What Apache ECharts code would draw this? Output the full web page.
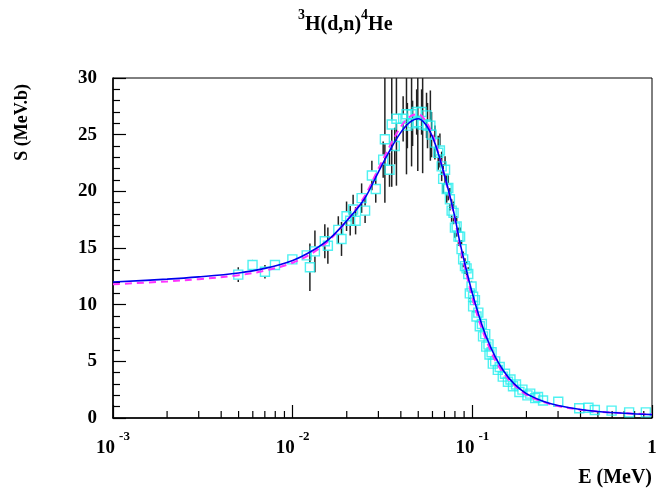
<!DOCTYPE html>
<html>
<head>
<meta charset="utf-8">
<script src="https://cdn.jsdelivr.net/npm/echarts@6/dist/echarts.min.js"></script>
<style>
html,body{margin:0;padding:0;background:#fff;}
#chart{width:670px;height:491px;}
</style>
</head>
<body>
<div id="chart"></div>
<script>
// ---- data ----
const pointE = [0.00498,0.00598,0.00701,0.00797,0.00996,0.01197,0.01247,0.0133,0.0151,0.0157,0.01795,0.0187,0.01995,0.0209,0.0217,0.0224,0.0242,0.0253,0.0276,0.029,0.0319,0.0326,0.0346,0.0356,0.037,0.0378,0.0412,0.0430,0.0435,0.0459,0.0465,0.049,0.0497,0.0522,0.0529,0.0556,0.0563,0.0584,0.0593,0.0619,0.0646,0.066,0.0675,0.0688,0.0705,0.072,0.0735,0.0750,0.0767,0.0786,0.080,0.0818,0.0837,0.0855,0.0871,0.0889,0.091,0.0929,0.0949,0.0968,0.099,0.101,0.101,0.1034,0.1055,0.108,0.110,0.113,0.1147,0.118,0.1195,0.123,0.1246,0.128,0.130,0.134,0.1386,0.142,0.1477,0.152,0.1578,0.163,0.1684,0.175,0.1828,0.19,0.2026,0.21,0.2239,0.232,0.2475,0.3007,0.3934,0.4428,0.4807,0.5957,0.746,0.924];
const pointS = [12.65,13.5,12.9,13.5,14.0,14.35,13.3,14.7,15.6,15.2,16.6,15.8,17.8,17.4,18.4,17.4,19.4,18.3,21.4,20.2,22.8,24.6,21.9,25.9,24.0,26.4,26.4,26.8,25.8,26.8,26.0,27.0,26.1,27.0,25.9,26.7,25.8,25.8,25.0,24.3,23.4,23.6,22.2,21.1,21.9,20.2,20.3,19.3,18.3,18.1,16.8,16.9,16.0,16.0,14.9,14.0,13.4,13.2,12.7,11.0,11.6,10.7,9.85,10.4,8.96,9.3,8.1,8.3,7.2,7.4,6.3,6.5,5.6,5.8,4.8,5.0,4.25,4.5,3.65,3.9,3.2,3.4,2.8,2.95,2.3,2.5,2.0,2.15,1.75,1.85,1.55,1.44,0.86,0.91,0.71,0.65,0.5,0.5];
const pointErr = [0.65,0.45,0.6,0.3,0.25,0.3,2.1,1.85,1.5,1.6,1.2,1.5,1.3,1.3,1.3,1.2,1.3,1.1,1.3,1.2,1.6,5.6,1.5,5.5,1.6,5.9,2.0,5.3,2.0,4.6,2.0,2.0,4.3,2.0,4.3,2.0,2.0,3.1,2.0,1.5,1.5,1.5,1.3,1.3,1.2,1.2,1.1,1.0,1.0,1.0,0.9,0.9,0.8,0.8,0.8,0.7,0.7,0.6,0.6,0.5,0.5,0.5,0.5,0.4,0.4,0.4,0.4,0.3,0.3,0.3,0.3,0.3,0.3,0.2,0.2,0.2,0.2,0.2,0.2,0.2,0.15,0.15,0.15,0.15,0.1,0.1,0.1,0.1,0.1,0.1,0.1,0.1,0.08,0.08,0.08,0.06,0.06,0.06];

const curveE = [0.001,0.002,0.003,0.005,0.007,0.01,0.013,0.016,0.02,0.025,0.03,0.035,0.04,0.045,0.05,0.055,0.06,0.065,0.07,0.075,0.08,0.085,0.09,0.1,0.11,0.12,0.135,0.15,0.17,0.2,0.25,0.3,0.4,0.5,0.7,1.0];
const curveBlue = [12.0,12.25,12.45,12.8,13.2,13.9,14.8,15.8,17.4,19.3,21.7,23.7,25.2,26.1,26.4,25.9,24.8,23.2,21.4,19.6,17.7,15.6,13.9,11.0,8.8,7.1,5.3,4.1,3.05,2.15,1.45,1.1,0.75,0.58,0.42,0.3];
const curveMagenta = [11.8,12.05,12.25,12.6,13.0,13.7,14.6,15.7,17.4,19.5,22.0,24.1,25.7,26.6,26.8,26.2,25.0,23.3,21.4,19.5,17.5,15.4,13.6,10.6,8.4,6.8,5.0,3.9,2.95,2.05,1.4,1.05,0.72,0.56,0.42,0.32];

const xTickLabels = {0.001:'-3', 0.01:'-2', 0.1:'-1'};
const yMin = 0, yMax = 30, yInterval = 5;

const FONT = 'Liberation Serif';
const minorXTicks = [];
[0.001,0.01,0.1].forEach(d => { for (let k = 2; k <= 9; k++) minorXTicks.push(+(d*k).toPrecision(3)); });

const chart = echarts.init(document.getElementById('chart'), null, {renderer:'canvas'});

const option = {
  animation: false,
  backgroundColor: '#fff',
  title: {
    text: '{s|3}{m|H(d,n)}{s|4}{m|He}',
    left: 293,
    top: 3,
    textStyle: {
      rich: {
        m: {fontFamily: FONT, fontWeight: 'bold', fontSize: 20, lineHeight: 27, verticalAlign: 'bottom', color: '#000'},
        s: {fontFamily: FONT, fontWeight: 'bold', fontSize: 14, lineHeight: 15, verticalAlign: 'top', color: '#000'}
      }
    }
  },
  grid: {left: 113, right: 18, top: 78, bottom: 73, show: true, borderColor: '#000', borderWidth: 1},
  xAxis: {
    type: 'log', min: 0.001, max: 1, logBase: 10,
    axisLine: {show: true, lineStyle: {color: '#000', width: 1.5}},
    axisTick: {show: true, inside: true, length: 13, lineStyle: {color: '#000', width: 1.2}},
    minorTick: {show: false},
    splitLine: {show: false},
    axisLabel: {
      margin: 12,
      formatter: function (v) {
        const key = +(+v).toPrecision(3);
        if (xTickLabels[key] !== undefined) return '{b|10}{s|' + xTickLabels[key] + '}';
        return '{b|1}';
      },
      rich: {
        b: {fontFamily: FONT, fontWeight: 'bold', fontSize: 19, lineHeight: 28, verticalAlign: 'bottom', color: '#000'},
        s: {fontFamily: FONT, fontWeight: 'bold', fontSize: 13, lineHeight: 16, verticalAlign: 'top', padding: [0, 0, 0, 4], color: '#000'}
      }
    }
  },
  yAxis: {
    type: 'value', min: yMin, max: yMax, interval: yInterval,
    axisLine: {show: true, lineStyle: {color: '#000', width: 1.5}},
    axisTick: {show: true, inside: true, length: 13, lineStyle: {color: '#000', width: 1.2}},
    minorTick: {show: true, splitNumber: 5, length: 7, lineStyle: {color: '#000', width: 1.2}},
    splitLine: {show: false},
    axisLabel: {margin: 16, fontFamily: FONT, fontWeight: 'bold', fontSize: 19, color: '#000'}
  },
  graphic: [
    {type: 'text', left: 13, top: 84, rotation: Math.PI/2, style: {text: 'S (MeV.b)', fontFamily: FONT, fontWeight: 'bold', fontSize: 18, fill: '#000'}},
    {type: 'text', right: 18, top: 468, style: {text: 'E (MeV)', fontFamily: FONT, fontWeight: 'bold', fontSize: 20, fill: '#000'}}
  ],
  series: [
    {
      type: 'custom', name: 'minorX', silent: true, clip: false, z: 1,
      data: minorXTicks.map(v => [v, yMin]),
      renderItem: function (params, api) {
        const p = api.coord([api.value(0), yMin]);
        return {type: 'line', shape: {x1: p[0], y1: p[1], x2: p[0], y2: p[1] - 7}, style: {stroke: '#000', lineWidth: 1.2}};
      }
    },
    {
      type: 'custom', name: 'errors', silent: true, clip: true, z: 2,
      data: pointE.map((e, i) => [e, pointS[i], pointErr[i]]),
      renderItem: function (params, api) {
        const e = api.value(0), s = api.value(1), d = api.value(2);
        const top = api.coord([e, s + d]);
        const c = api.coord([e, s]);
        const bot = api.coord([e, s - d]);
        const gap = 5;
        const children = [];
        if (c[1] - gap > top[1]) children.push({type: 'line', shape: {x1: c[0], y1: top[1], x2: c[0], y2: c[1] - gap}, style: {stroke: '#222', lineWidth: 1.5}});
        if (bot[1] > c[1] + gap) children.push({type: 'line', shape: {x1: c[0], y1: c[1] + gap, x2: c[0], y2: bot[1]}, style: {stroke: '#222', lineWidth: 1.5}});
        return {type: 'group', children: children};
      }
    },
    {
      type: 'scatter', name: 'data', z: 3, silent: true,
      symbol: 'rect', symbolSize: 9,
      itemStyle: {color: 'rgba(255,255,255,0)', borderColor: '#22eeee', borderWidth: 1.4},
      data: pointE.map((e, i) => [e, pointS[i]])
    },
    {
      type: 'line', name: 'fit2', z: 4, silent: true, symbol: 'none', smooth: 0.35,
      lineStyle: {color: '#ff33ff', width: 2, type: [7, 5]},
      data: curveE.map((e, i) => [e, curveMagenta[i]])
    },
    {
      type: 'line', name: 'fit1', z: 5, silent: true, symbol: 'none', smooth: 0.35,
      lineStyle: {color: '#0000ee', width: 1.6},
      data: curveE.map((e, i) => [e, curveBlue[i]])
    }
  ]
};
chart.setOption(option);
</script>
</body>
</html>
